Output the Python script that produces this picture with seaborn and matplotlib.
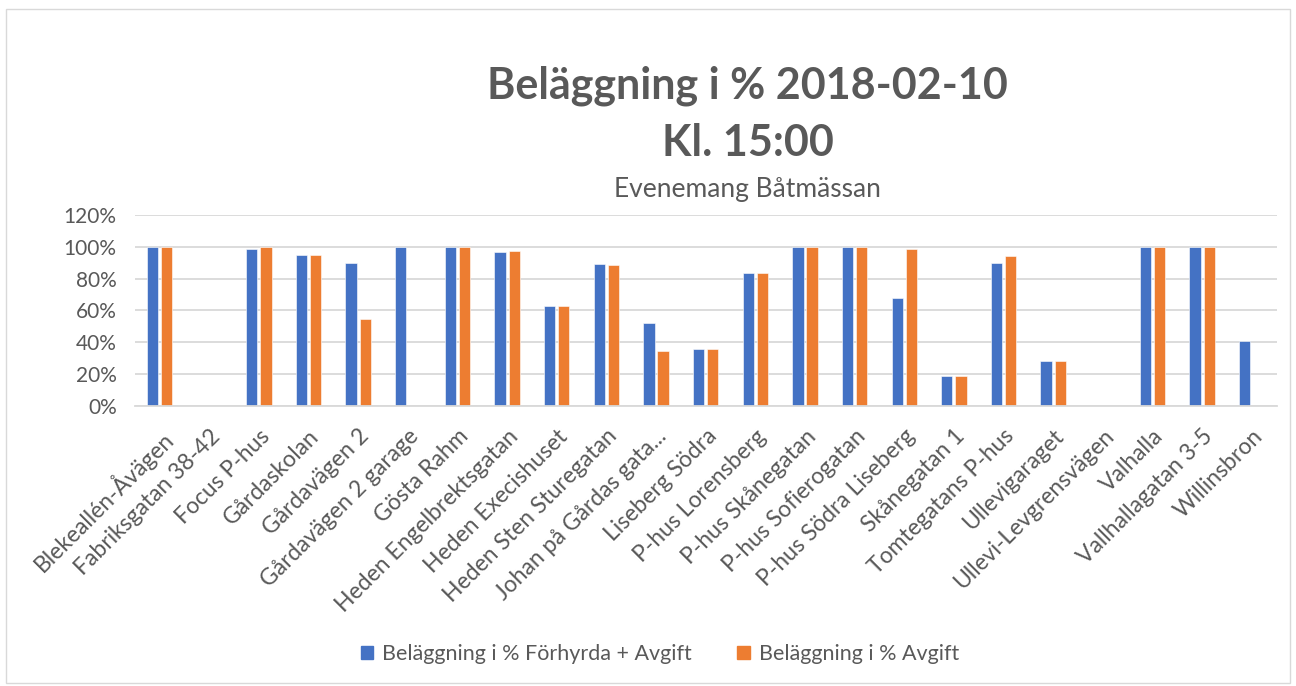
import pandas as pd
import numpy as np
import matplotlib.pyplot as plt
import matplotlib as mpl
import seaborn as sns
from matplotlib.ticker import PercentFormatter
from matplotlib.patches import Rectangle

sns.set_style('white')
plt.rcParams['font.family'] = ['Lato', 'DejaVu Sans']

categories = ['Blekeallén-Åvägen', 'Fabriksgatan 38-42', 'Focus P-hus', 'Gårdaskolan',
              'Gårdavägen 2', 'Gårdavägen 2 garage', 'Gösta Rahm', 'Heden Engelbrektsgatan',
              'Heden Execishuset', 'Heden Sten Sturegatan', 'Johan på Gårdas gata...',
              'Liseberg Södra', 'P-hus Lorensberg', 'P-hus Skånegatan', 'P-hus Sofierogatan',
              'P-hus Södra Liseberg', 'Skånegatan 1', 'Tomtegatans P-hus', 'Ullevigaraget',
              'Ullevi-Levgrensvägen', 'Valhalla', 'Vallhallagatan 3-5', 'Willinsbron']
forhyrda = [1.00, 0.0, 0.988, 0.948, 0.899, 1.00, 1.00, 0.966, 0.627, 0.891, 0.524,
            0.358, 0.834, 1.00, 1.00, 0.677, 0.191, 0.897, 0.283, 0.0, 1.00, 1.00, 0.411]
avgift = [1.00, 0.0, 1.00, 0.947, 0.547, 0.0, 1.00, 0.972, 0.629, 0.885, 0.346,
          0.358, 0.832, 1.00, 1.00, 0.987, 0.191, 0.943, 0.283, 0.0, 1.00, 1.00, 0.0]
series = ['Beläggning i % Förhyrda + Avgift', 'Beläggning i % Avgift']
colors = ['#4472C4', '#ED7D31']

df = pd.DataFrame({'plats': categories, series[0]: forhyrda, series[1]: avgift})
df = df.melt(id_vars='plats', var_name='serie', value_name='andel')

fig = plt.figure(figsize=(12.96, 6.86), dpi=100)
ax = fig.add_axes([0.104, 0.408, 0.881, 0.279])

sns.barplot(data=df, x='plats', y='andel', hue='serie', palette=colors, ax=ax,
            saturation=1, width=0.57, gap=0.2, edgecolor='white', linewidth=0.4,
            legend=False)

grey = '#595959'
ax.set_ylim(0, 1.2)
ax.set_yticks(np.arange(0, 1.21, 0.2))
ax.yaxis.set_major_formatter(PercentFormatter(xmax=1, decimals=0))
ax.grid(axis='y', color='#D9D9D9', linewidth=1.3)
ax.set_axisbelow(True)
for s in ['top', 'right', 'left']:
    ax.spines[s].set_visible(False)
ax.spines['bottom'].set_color('#D9D9D9')
ax.spines['bottom'].set_linewidth(1.3)
ax.set_xlabel('')
ax.set_ylabel('')
ax.tick_params(axis='both', length=0, colors=grey)
ax.tick_params(axis='x', pad=14, labelsize=16.5)
ax.tick_params(axis='y', pad=13, labelsize=15)
plt.setp(ax.get_xticklabels(), rotation=45, ha='right', rotation_mode='anchor')
ax.set_xlim(-0.5, len(categories) - 0.5)

fig.text(0.577, 1 - 86 / 686, 'Beläggning i % 2018-02-10', ha='center', va='center',
         fontsize=31, fontweight='bold', color=grey)
fig.text(0.577, 1 - 143 / 686, 'Kl. 15:00', ha='center', va='center',
         fontsize=31, fontweight='bold', color=grey)
fig.text(0.577, 1 - 189 / 686, 'Evenemang Båtmässan', ha='center', va='center',
         fontsize=19, color=grey)

handles = [mpl.patches.Patch(color=c) for c in colors]
fig.legend(handles, series, loc='center', bbox_to_anchor=(0.509, 1 - 654 / 686), ncol=2,
           frameon=False, fontsize=15.5, labelcolor=grey, handlelength=0.6,
           handleheight=0.6, columnspacing=2.1, handletextpad=0.4)

fig.patches.append(Rectangle((0.005, 0.005), 0.99, 0.982, transform=fig.transFigure,
                             fill=False, edgecolor='#D9D9D9', linewidth=1))

fig.savefig('out.png', dpi=100)
